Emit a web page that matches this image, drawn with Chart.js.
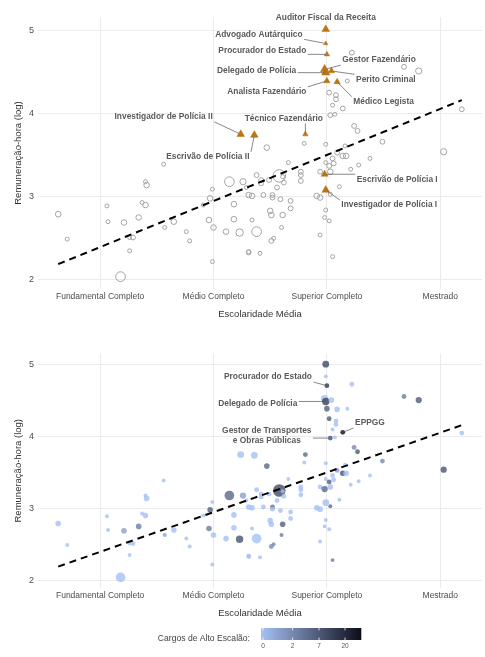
<!DOCTYPE html>
<html lang="pt-BR">
<head>
<meta charset="UTF-8" />
<title>Remuneração-hora e escolaridade média</title>
<style>
  html, body { margin: 0; padding: 0; background: #fff; }
  body { width: 485px; height: 657px; position: relative; overflow: hidden; }
  .painel { position: absolute; left: 0; width: 485px; }
  #painelTopo { top: 0; height: 322px; }
  #painelBase { top: 322px; height: 335px; }
</style>
</head>
<body>
<div class="painel" id="painelTopo"><canvas id="graficoCargos"></canvas></div>
<div class="painel" id="painelBase"><canvas id="graficoAltoEscalao"></canvas></div>
<script src="https://cdn.jsdelivr.net/npm/chart.js"></script>
<script>
const niveisEscolaridade = ['Fundamental Completo', 'Médio Completo', 'Superior Completo', 'Mestrado'];
const ticksEscolaridade = [1, 2, 3, 4];
const ticksRemuneracao = [2, 3, 4, 5];

// demais cargos (círculos cinza no painel de cima)
const outrosEscolaridade = [
  0.63, 0.71, 1.06, 1.07, 1.21, 1.26, 1.29, 1.26, 1.18, 1.34, 1.37, 1.40, 1.40,
  1.41, 1.56, 1.57, 1.65, 1.76, 1.79, 1.99, 1.97, 1.91, 1.96, 2.00, 1.99, 2.11,
  2.14, 2.26, 2.29, 2.18, 2.18, 2.23, 2.31, 2.34, 2.31, 2.38, 2.47, 2.66, 2.58,
  2.61, 2.77, 2.77, 2.77, 2.38, 2.42, 2.42, 2.49, 2.56, 2.62, 2.44, 2.52, 2.52,
  2.59, 2.68, 2.68, 2.50, 2.51, 2.61, 2.34, 2.60, 2.51, 2.53, 2.31, 2.41, 2.80,
  2.99, 3.03, 3.07, 3.24, 3.27, 3.16, 3.14, 3.17, 3.09, 3.05, 3.06, 2.99, 3.28,
  3.38, 3.21, 3.02, 2.94, 3.03, 3.11, 2.91, 2.94, 2.99, 2.98, 3.02, 2.94, 3.05,
  4.03, 3.49, 3.22, 3.18, 3.68, 3.81, 3.02, 3.08, 3.08, 3.05, 3.14, 4.19, 3.03
];
const outrosRemuneracao = [
  2.79, 2.49, 2.89, 2.70, 2.69, 2.51, 2.51, 2.35, 2.04, 2.75, 2.93, 2.90, 3.18,
  3.14, 3.39, 2.63, 2.70, 2.58, 2.47, 3.09, 2.98, 2.90, 2.72, 2.63, 2.22, 2.58,
  3.18, 3.18, 3.11, 2.91, 2.73, 2.57, 3.02, 3.01, 2.34, 2.58, 3.59, 3.41, 3.25,
  3.24, 3.30, 3.26, 3.19, 3.26, 3.20, 3.16, 3.20, 3.11, 3.17, 3.02, 3.02, 2.99,
  2.97, 2.95, 2.86, 2.83, 2.78, 2.78, 2.72, 2.63, 2.47, 2.50, 2.33, 2.32, 3.64,
  3.63, 3.98, 3.99, 3.85, 3.79, 3.61, 3.49, 3.49, 3.53, 3.46, 3.40, 3.41, 3.38,
  3.46, 3.33, 3.37, 3.30, 3.30, 3.12, 3.01, 2.99, 2.84, 2.75, 2.71, 2.54, 2.28,
  3.54, 3.66, 4.73, 4.39, 4.56, 4.51, 4.25, 4.22, 4.17, 4.10, 4.06, 4.05, 3.03
];
const outrosServidores = [
  4, 2, 2, 2, 4, 2, 3, 2, 12, 4, 2, 4, 2,
  4, 2, 2, 4, 2, 2, 2, 4, 2, 4, 4, 2, 4,
  12, 5, 2, 4, 4, 7, 4, 4, 2, 12, 4, 2, 20,
  2, 3, 3, 3, 3, 3, 3, 3, 3, 3, 3, 3, 3,
  3, 3, 3, 4, 4, 4, 2, 2, 3, 2, 3, 2, 2,
  2, 3, 2, 3, 3, 2, 4, 4, 3, 3, 3, 2, 2,
  2, 2, 3, 3, 4, 2, 4, 4, 2, 2, 2, 2, 2,
  5, 3, 3, 2, 3, 5, 3, 3, 3, 2, 3, 3, 2
];
const outrosAltoEscalao = [
  0, 0, 0, 0, 1, 0, 0, 0, 0, 3, 0, 0, 0,
  0, 0, 1, 0, 0, 0, 0, 6, 0, 3, 0, 0, 0,
  5, 1, 0, 0, 0, 8, 0, 0, 0, 0, 5, 0, 10,
  0, 0, 0, 0, 0, 0, 0, 0, 0, 0, 0, 4, 0,
  0, 0, 0, 0, 0, 6, 0, 3, 2, 2, 0, 0, 0,
  0, 9, 0, 2, 7, 0, 8, 0, 1, 0, 0, 0, 0,
  0, 0, 6, 0, 0, 0, 0, 0, 0, 0, 0, 0, 3,
  8, 2, 0, 0, 3, 7, 7, 0, 0, 0, 37, 0, 5
];

// cargos em destaque (triângulos no painel de cima)
const destaqueCargo = [
  'Auditor Fiscal da Receita', 'Advogado Autárquico', 'Procurador do Estado', 'Gestor Fazendário',
  'Delegado de Polícia', 'Perito Criminal', 'Analista Fazendário', 'Médico Legista',
  'Técnico Fazendário', 'Investigador de Polícia II', 'Escrivão de Polícia II',
  'Escrivão de Polícia I', 'Investigador de Polícia I'
];
const destaqueEscolaridade = [2.99, 2.99, 3.00, 2.98, 2.99, 3.04, 3.00, 3.09, 2.81, 2.24, 2.36, 2.98, 2.99];
const destaqueRemuneracao = [5.01, 4.84, 4.71, 4.53, 4.49, 4.51, 4.39, 4.38, 3.75, 3.75, 3.74, 3.27, 3.08];
const destaqueServidores = [6, 2, 3, 7, 7, 4, 4, 4, 3, 6, 6, 5, 6];
const destaqueAltoEscalao = [10, 0, 15, 0, 12, 0, 6, 0, 5, 0, 0, 5, 0];
const destaqueRotuloX = [2.99, 2.40, 2.43, 3.46, 2.38, 3.52, 2.47, 3.50, 2.62, 1.56, 1.95, 3.62, 3.55];
const destaqueRotuloY = [5.15, 4.95, 4.75, 4.64, 4.51, 4.41, 4.26, 4.14, 3.94, 3.96, 3.48, 3.21, 2.90];

// rótulos do painel de baixo
const rotuloInfTexto = [['Procurador do Estado'], ['Delegado de Polícia'], ['Gestor de Transportes', 'e Obras Públicas'], ['EPPGG']];
const rotuloInfX = [2.48, 2.39, 2.47, 3.38];
const rotuloInfY = [4.83, 4.46, 4.01, 4.19];
const rotuloInfAlvoX = [3.00, 2.99, 3.03, 3.14];
const rotuloInfAlvoY = [4.71, 4.49, 3.98, 4.06];

// reta de tendência
const tendenciaX = [0.63, 4.19];
const tendenciaY = [2.19, 4.16];

const legendaTicks = [0, 2, 7, 20];
const altoEscalaoMax = 37;

const familia = "'Liberation Sans', Arial, sans-serif";
Chart.defaults.font.family = familia;

const raio = n => 1.4 * Math.sqrt(n);
const posicaoCor = n => Math.log1p(n) / Math.log1p(altoEscalaoMax);
const corBaixa = [165, 193, 245];
const corAlta = [12, 12, 24];
function corAlto(n, alfa) {
  const t = posicaoCor(n);
  const c = corBaixa.map((v, i) => Math.round(v + (corAlta[i] - v) * t));
  return `rgba(${c[0]}, ${c[1]}, ${c[2]}, ${alfa})`;
}

function limites(valores) {
  const min = Math.min(...valores), max = Math.max(...valores);
  const folga = (max - min) * 0.05;
  return [min - folga, max + folga];
}
const limX = limites(outrosEscolaridade.concat(destaqueEscolaridade));
const limY = limites(outrosRemuneracao.concat(destaqueRemuneracao));

function escalas(alturaX) {
  return {
    x: {
      type: 'linear', min: limX[0], max: limX[1],
      afterBuildTicks: s => { s.ticks = ticksEscolaridade.map(v => ({ value: v })); },
      afterFit: s => { s.height = alturaX; },
      grid: { color: '#ebebeb', lineWidth: 1, drawTicks: false },
      border: { display: false },
      ticks: {
        color: '#4d4d4d', font: { size: 8.5 }, padding: 3, autoSkip: false, maxRotation: 0,
        callback: v => niveisEscolaridade[ticksEscolaridade.indexOf(v)]
      },
      title: { display: true, text: 'Escolaridade Média', color: '#333', font: { size: 9.5 }, padding: { top: 0, bottom: 2.4 } }
    },
    y: {
      type: 'linear', min: limY[0], max: limY[1],
      afterBuildTicks: s => { s.ticks = ticksRemuneracao.map(v => ({ value: v })); },
      afterFit: s => { s.width = 38; },
      grid: { color: '#ebebeb', lineWidth: 1, drawTicks: false },
      border: { display: false },
      ticks: { color: '#4d4d4d', font: { size: 9 }, padding: 4 },
      title: { display: true, text: 'Remuneração-hora (log)', color: '#333', font: { size: 9.5 }, padding: { top: 12.3, bottom: 0 } }
    }
  };
}

function rotulos(itens) {
  return {
    id: 'rotulos',
    afterDatasetsDraw(chart) {
      const { ctx, scales: { x, y } } = chart;
      ctx.save();
      ctx.font = `bold 8.4px ${familia}`;
      ctx.textAlign = 'center';
      ctx.textBaseline = 'middle';
      itens.forEach(it => {
        const lx = x.getPixelForValue(it.lx), ly = y.getPixelForValue(it.ly);
        const px = x.getPixelForValue(it.px), py = y.getPixelForValue(it.py);
        const altLinha = 10;
        const larg = Math.max(...it.texto.map(t => ctx.measureText(t).width));
        const meiaL = larg / 2 + 1.5, meiaA = it.texto.length * altLinha / 2;
        // ponto da caixa do rótulo mais próximo do cargo
        const bx = Math.min(Math.max(px, lx - meiaL), lx + meiaL);
        const by = Math.min(Math.max(py, ly - meiaA), ly + meiaA);
        const d = Math.hypot(px - bx, py - by);
        if (d > 8) {
          const fim = (d - it.folga) / d;
          ctx.beginPath();
          ctx.moveTo(bx, by);
          ctx.lineTo(bx + (px - bx) * fim, by + (py - by) * fim);
          ctx.strokeStyle = '#555';
          ctx.lineWidth = 0.7;
          ctx.stroke();
        }
        ctx.fillStyle = '#5a5a5a';
        it.texto.forEach((t, i) => ctx.fillText(t, lx, ly - meiaA + altLinha * (i + 0.5)));
      });
      ctx.restore();
    }
  };
}

const legendaCor = {
  id: 'legendaCor',
  afterDraw(chart) {
    const { ctx } = chart;
    const x0 = 261, x1 = 361, y0 = 306, y1 = 318;
    ctx.save();
    for (let i = 0; i < x1 - x0; i++) {
      const n = Math.expm1((i / (x1 - x0)) * Math.log1p(altoEscalaoMax));
      ctx.fillStyle = corAlto(n, 1);
      ctx.fillRect(x0 + i, y0, 1.3, y1 - y0);
    }
    ctx.strokeStyle = '#fff';
    ctx.lineWidth = 0.8;
    ctx.fillStyle = '#555';
    ctx.font = `6.5px ${familia}`;
    ctx.textAlign = 'center';
    ctx.textBaseline = 'middle';
    legendaTicks.forEach(v => {
      const px = x0 + 2 + (x1 - x0 - 2) * posicaoCor(v);
      ctx.beginPath();
      ctx.moveTo(px, y0); ctx.lineTo(px, y0 + 2.4);
      ctx.moveTo(px, y1); ctx.lineTo(px, y1 - 2.4);
      ctx.stroke();
      ctx.fillText(String(v), px, 324);
    });
    ctx.fillStyle = '#444';
    ctx.font = `8.6px ${familia}`;
    ctx.textAlign = 'right';
    ctx.fillText('Cargos de Alto Escalão:', 250, 317);
    ctx.restore();
  }
};

const linhaTendencia = {
  type: 'line',
  data: tendenciaX.map((v, i) => ({ x: v, y: tendenciaY[i] })),
  borderColor: '#000', borderWidth: 2, borderDash: [7, 5],
  pointRadius: 0, fill: false, tension: 0, order: 1
};

const opcoesBase = {
  responsive: true,
  maintainAspectRatio: false,
  animation: false,
  events: [],
  plugins: { legend: { display: false }, tooltip: { enabled: false } }
};

new Chart(document.getElementById('graficoCargos'), {
  type: 'bubble',
  data: {
    datasets: [
      linhaTendencia,
      {
        label: 'Cargos em destaque',
        data: destaqueEscolaridade.map((v, i) => ({ x: v, y: destaqueRemuneracao[i], r: raio(destaqueServidores[i]) * 1.3 })),
        pointStyle: 'triangle',
        backgroundColor: '#b87514', borderColor: '#b87514', borderWidth: 0.5, order: 2
      },
      {
        label: 'Demais cargos',
        data: outrosEscolaridade.map((v, i) => ({ x: v, y: outrosRemuneracao[i], r: raio(outrosServidores[i]) })),
        backgroundColor: 'rgba(0,0,0,0)', borderColor: '#a3a3a3', borderWidth: 1, order: 3
      }
    ]
  },
  options: {
    ...opcoesBase,
    layout: { autoPadding: false, padding: { top: 17, right: 3, bottom: 0, left: 0 } },
    scales: escalas(33)
  },
  plugins: [rotulos(destaqueCargo.map((c, i) => ({
    texto: [c], lx: destaqueRotuloX[i], ly: destaqueRotuloY[i],
    px: destaqueEscolaridade[i], py: destaqueRemuneracao[i], folga: 2
  })))]
});

const todosEscolaridade = outrosEscolaridade.concat(destaqueEscolaridade);
const todosRemuneracao = outrosRemuneracao.concat(destaqueRemuneracao);
const todosServidores = outrosServidores.concat(destaqueServidores);
const todosAltoEscalao = outrosAltoEscalao.concat(destaqueAltoEscalao);

new Chart(document.getElementById('graficoAltoEscalao'), {
  type: 'bubble',
  data: {
    datasets: [
      linhaTendencia,
      {
        label: 'Cargos',
        data: todosEscolaridade.map((v, i) => ({ x: v, y: todosRemuneracao[i], r: raio(todosServidores[i]) })),
        backgroundColor: ctx => corAlto(todosAltoEscalao[ctx.dataIndex], 0.8),
        borderWidth: 0, order: 2
      }
    ]
  },
  options: {
    ...opcoesBase,
    layout: { autoPadding: false, padding: { top: 31.5, right: 3, bottom: 36, left: 0 } },
    scales: escalas(33)
  },
  plugins: [
    rotulos(rotuloInfTexto.map((t, i) => ({
      texto: t, lx: rotuloInfX[i], ly: rotuloInfY[i],
      px: rotuloInfAlvoX[i], py: rotuloInfAlvoY[i], folga: 2
    }))),
    legendaCor
  ]
});
</script>
</body>
</html>
